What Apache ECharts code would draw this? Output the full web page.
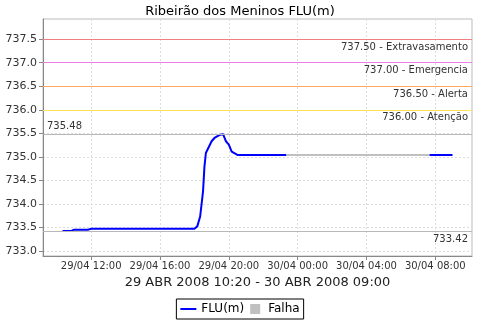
<!DOCTYPE html>
<html><head><meta charset="utf-8">
<script src="https://cdn.jsdelivr.net/npm/echarts@6/dist/echarts.min.js"></script>
<style>html,body{margin:0;padding:0;background:#fff}#c{width:480px;height:320px}</style>
</head><body><div id="c"></div>
<script>
// Data (times as "dd/mm HH:MM")
var fluTimes = ['29/04 10:20','29/04 10:50','29/04 11:00','29/04 11:50','29/04 12:00','29/04 18:00','29/04 18:10','29/04 18:20','29/04 18:30','29/04 18:35','29/04 18:40','29/04 19:00','29/04 19:10','29/04 19:30','29/04 19:40','29/04 19:50','29/04 20:00','29/04 20:10','29/04 20:30','29/04 23:20','30/04 07:30','30/04 07:40','30/04 09:00'];
var fluValues = [733.42,733.42,733.45,733.45,733.47,733.47,733.52,733.73,734.26,734.79,735.08,735.33,735.40,735.47,735.48,735.33,735.26,735.11,735.04,735.04,'-',735.04,735.04];
var falhaTimes = ['29/04 23:20','30/04 07:40'];
var falhaValues = [735.04,735.04];
var xTickLabels = ['29/04 12:00','29/04 16:00','29/04 20:00','30/04 00:00','30/04 04:00','30/04 08:00'];
var yTickValues = [733.0,733.5,734.0,734.5,735.0,735.5,736.0,736.5,737.0,737.5];
var thresholdValues = [737.5,737.0,736.5,736.0];
var thresholdNames = ['Extravasamento','Emergencia','Alerta','Atenção'];
var maxValue = 735.48, minValue = 733.42;

function toHours(s){ // hours since 29/04 00:00
  var d = parseInt(s.substr(0,2),10), h = parseInt(s.substr(6,2),10), m = parseInt(s.substr(9,2),10);
  return (d-29)*24 + h + m/60;
}
function fmtHours(v){
  var d = 29 + Math.floor(v/24), r = v - Math.floor(v/24)*24;
  var h = Math.floor(r+1e-6), m = Math.round((r-h)*60);
  return d + '/04 ' + (h<10?'0':'') + h + ':' + (m<10?'0':'') + m;
}
var fluData = fluTimes.map(function(t,i){ return [toHours(t), fluValues[i]]; });
var falhaData = falhaTimes.map(function(t,i){ return [toHours(t), falhaValues[i]]; });
var xTicks = xTickLabels.map(toHours);
var thColors = ['#f08080','#e880e8','#ffa860','#ffe060'];
var font = 'DejaVu Sans';

var markData = thresholdValues.map(function(v,i){
  return {yAxis: v, lineStyle:{color:thColors[i], type:'solid', width:1},
    label:{show:true, position:'insideEndBottom', formatter: v.toFixed(2)+' - '+thresholdNames[i], color:'#333', fontSize:10, fontFamily:font, distance:[4,3]}};
});
markData.push({yAxis: maxValue, lineStyle:{color:'#b8b8b8', type:'solid', width:1},
  label:{show:true, position:'insideStartTop', formatter: maxValue.toFixed(2), color:'#333', fontSize:10, fontFamily:font, distance:[4,3]}});
markData.push({yAxis: minValue, lineStyle:{color:'#b8b8b8', type:'solid', width:1},
  label:{show:true, position:'insideEndBottom', formatter: minValue.toFixed(2), color:'#333', fontSize:10, fontFamily:font, distance:[4,3]}});

var chart = echarts.init(document.getElementById('c'), null, {renderer:'canvas'});
chart.setOption({
  animation:false,
  backgroundColor:'#fff',
  title:{text:'Ribeirão dos Meninos FLU(m)', left:'center', top:0, textStyle:{fontFamily:font, fontSize:13, fontWeight:'normal', color:'#000'}},
  grid:{left:43, right:8, top:19, bottom:64, show:true, borderColor:'#bbb', borderWidth:1, backgroundColor:'#fff'},
  legend:{bottom:1, left:'center', borderColor:'#000', borderWidth:1, padding:[4,4], itemGap:6, itemWidth:16, itemHeight:10,
    textStyle:{fontFamily:font, fontSize:12, color:'#000'},
    data:[{name:'FLU(m)', icon:'path://M0,5 L16,5 L16,7 L0,7 Z'},{name:'Falha', icon:'path://M0,0 L10,0 L10,10 L0,10 Z'}]},
  xAxis:{type:'value', min:toHours('29/04 09:12'), max:toHours('30/04 10:08'),
    name:'29 ABR 2008 10:20 - 30 ABR 2008 09:00', nameLocation:'middle', nameGap:20,
    nameTextStyle:{fontFamily:font, fontSize:13, color:'#222'},
    axisLine:{lineStyle:{color:'#888'}},
    axisTick:{customValues:xTicks, length:4, lineStyle:{color:'#888'}},
    axisLabel:{customValues:xTicks, formatter:function(v){return fmtHours(v);}, fontFamily:font, fontSize:10, color:'#333', margin:5},
    splitLine:{show:true, lineStyle:{color:'#ddd', type:[2,2]}}},
  yAxis:{type:'value', min:732.89, max:737.93,
    axisLine:{show:true, lineStyle:{color:'#888'}},
    axisTick:{show:true, customValues:yTickValues, length:4, lineStyle:{color:'#888'}},
    axisLabel:{customValues:yTickValues, formatter:function(v){return v.toFixed(1);}, fontFamily:font, fontSize:11, color:'#333', margin:6},
    splitLine:{show:true, lineStyle:{color:'#ddd', type:[2,2]}}},
  series:[
    {name:'Falha', type:'line', data:falhaData, showSymbol:false, itemStyle:{color:'#c0c0c0'}, lineStyle:{color:'#c0c0c0', width:2}, z:2},
    {name:'FLU(m)', type:'line', data:fluData, showSymbol:false, connectNulls:false, itemStyle:{color:'#0000ff'}, lineStyle:{color:'#0000ff', width:2}, z:3,
      markLine:{silent:true, symbol:'none', data:markData}}
  ]
});
</script></body></html>
